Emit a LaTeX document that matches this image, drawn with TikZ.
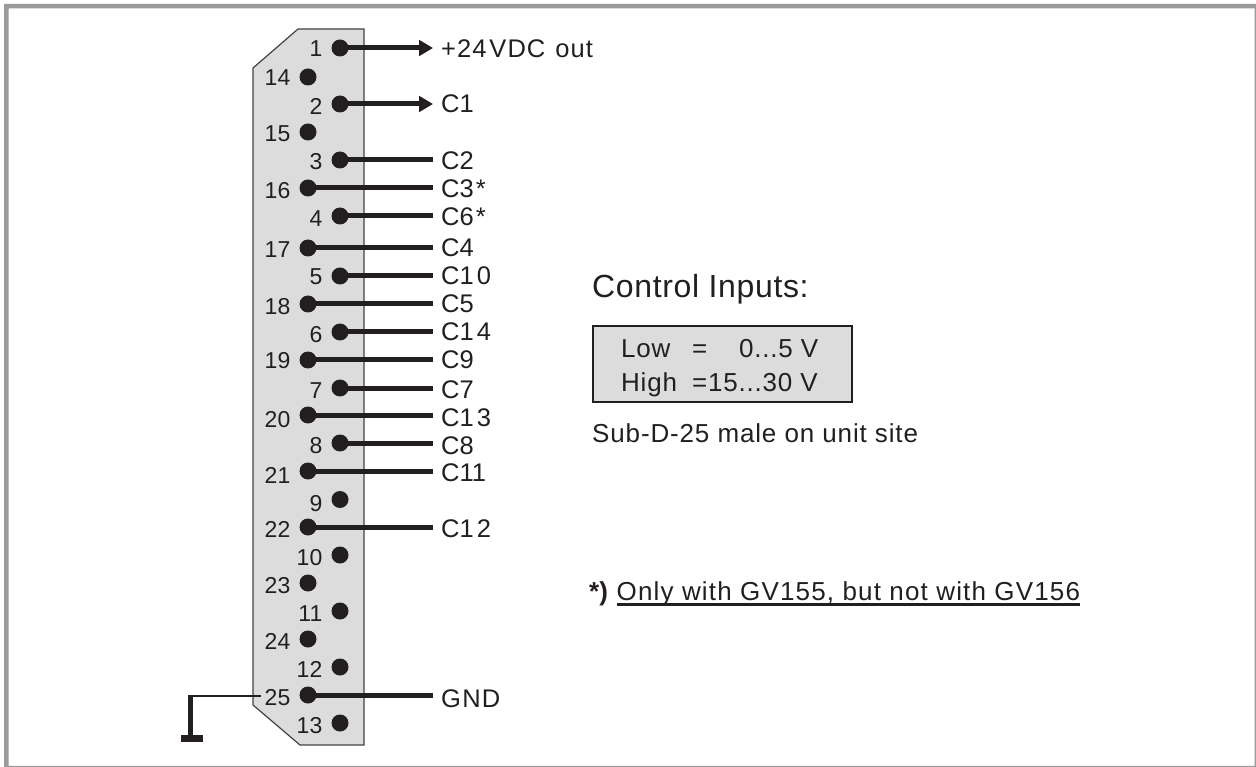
\documentclass[tikz,border=0pt]{standalone}
\usepackage{fontspec}
\setmainfont{Liberation Sans}
\usetikzlibrary{arrows.meta}
\definecolor{ink}{HTML}{231F20}
\definecolor{panel}{HTML}{DCDCDC}
\definecolor{frame}{HTML}{9B9B9B}
\newcommand{\wide}[1]{\addfontfeature{LetterSpace=#1}}
\tikzset{
  pin/.style={circle,fill=ink,inner sep=0pt,minimum size=17pt},
  pinnum/.style={anchor=base east,inner sep=0pt,font=\fontsize{23}{23}\selectfont,text=ink},
  lab/.style={anchor=base west,inner sep=0pt,font=\fontsize{25.5}{25.5}\selectfont,text=ink},
  wire/.style={line width=5pt,draw=ink},
  arrowwire/.style={wire,-{Triangle[length=14pt,width=15.5pt]}},
  txt/.style={anchor=base west,inner sep=0pt,text=ink},
  boxtxt/.style={txt,font=\fontsize{26}{26}\selectfont\wide{3}},
  smalltxt/.style={txt,font=\fontsize{26}{26}\selectfont\wide{3.3}},
}
\begin{document}
\begin{tikzpicture}[x=1pt,y=-1pt]
\useasboundingbox (0,0) rectangle (1256,767);
\fill[white] (0,0) rectangle (1256,767);
\fill[frame,even odd rule] (4,4) rectangle (1256,767) (8.5,8.5) rectangle (1254.5,765.8);
\draw[fill=panel,draw=ink!85,line width=1.2pt] (253,68) -- (298,29) -- (364,29) -- (364,745) -- (300,745) -- (253,705) -- cycle;
% pins: number, x, y, baseline of number
\foreach \n/\x/\y/\b in {1/340/48/57,14/308/77/86,2/340/104/115,15/308/132/142,3/340/160/170,16/308/188/199,4/340/216/227,17/308/248/258,5/340/276/285,18/308/304/315,6/340/332/343,19/308/360/368,7/340/388/398,20/308/415/427,8/340/443/453,21/308/471/483,9/340/499.5/511,22/308/527/537,10/340/555/565,23/308/583/593,11/340/611/621,24/308/639/649,12/340/667/677,25/308/695/705,13/340/723/733}{
  \node[pin] (p\n) at (\x,\y) {};
  \node[pinnum] (n\n) at (\x-17.5,\b) {\n};
}
% labelled ends: pin, y, baseline, text
\foreach \n/\y/\b/\t in {1/48/58/{\wide{4}+24\kern3pt VDC\kern2pt\ out},2/104/113/C1,3/160/170/C2,16/188/198/{C3\kern2pt*},4/216/226/{C6\kern2pt*},17/248/257/C4,5/276/285/{C1\kern3pt 0},18/304/313/C5,6/332/341/{C1\kern3pt 4},19/360/369/C9,7/388/398/C7,20/415/426/{C1\kern3pt 3},8/443/454/C8,21/471/481/C11,22/527/537/{C1\kern3pt 2},25/695/707/{\wide{5}GND}}{
  \coordinate (e\n) at (433,\y);
  \node[lab] (l\n) at (441,\b) {\t};
}
\foreach \n in {1,2}{\draw[arrowwire] (p\n.center) -- (e\n);}
\foreach \n in {3,16,4,17,5,18,6,19,7,20,8,21,22,25}{\draw[wire] (p\n.center) -- (e\n);}
% ground
\coordinate (gs) at (261,696);
\coordinate (gt) at (190.5,696);
\coordinate (gb) at (190.5,738.5);
\coordinate (gl) at (181,738.5);
\coordinate (gr) at (203,738.5);
\draw[ink,line width=1.2pt] (gs) -- (gt);
\draw[ink,line width=5pt] (190.5,695) -- (gb);
\draw[ink,line width=7pt] (gl) -- (gr);
% texts
\node[txt,font=\fontsize{32}{32}\selectfont\wide{2}] (title) at (592,298) {Control Inputs:};
\node[draw=ink,line width=2pt,fill=panel,minimum width=259pt,minimum height=75pt,inner sep=0pt] (box) at (722,364) {};
\node[boxtxt] (low) at (621,357) {Low};
\node[boxtxt] (loweq) at (692,357) {=};
\node[boxtxt] (lowv) at (739,357) {0...5 V};
\node[boxtxt] (high) at (621,391) {High};
\node[boxtxt] (highv) at (692,391) {=15...30 V};
\node[smalltxt] (sub) at (592,442) {Sub-D-25 male on unit site};
\node[txt,font=\fontsize{26}{26}\selectfont] (star) at (589,600) {\textbf{*)}};
\node[txt,font=\fontsize{26}{26}\selectfont\wide{4.5}] (note) at (616.5,600) {Only with GV155, but not with GV156};
\draw[ink,line width=2.5pt] ([yshift=-4.5pt]note.base west) -- ([yshift=-4.5pt]note.base east);
\end{tikzpicture}
\end{document}
